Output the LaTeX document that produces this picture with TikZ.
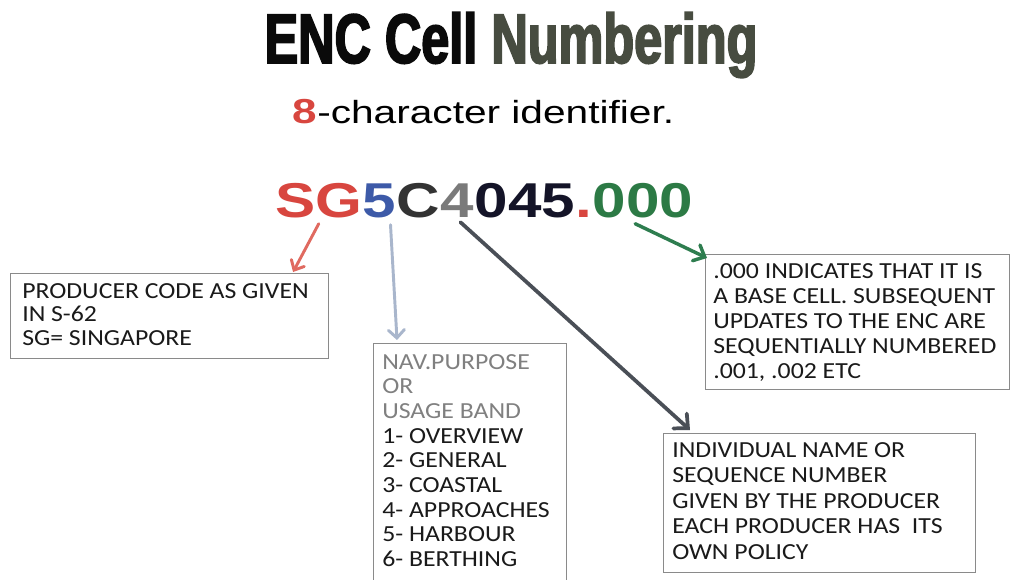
\documentclass[tikz,border=0pt]{standalone}
\usepackage{fontspec}
\setmainfont{Liberation Sans}
\newfontfamily\boxfont[FakeStretch=1.12]{Carlito}
\newfontfamily\idfont[FakeStretch=1.23]{Liberation Sans}
\newfontfamily\subfont[FakeStretch=1.27]{Liberation Sans}
\newfontfamily\titlefont[FakeStretch=0.72,FakeBold=2.5]{Liberation Sans}
\usetikzlibrary{arrows.meta,calc}
\definecolor{idred}{HTML}{D8463F}
\definecolor{redarr}{HTML}{E06A60}
\definecolor{idblue}{HTML}{3D5AA8}
\definecolor{idC}{HTML}{333333}
\definecolor{idfour}{HTML}{7A7A7A}
\definecolor{iddark}{HTML}{141428}
\definecolor{idgreen}{HTML}{2C7A45}
\definecolor{greenarr}{HTML}{2E7D4F}
\definecolor{bluearr}{HTML}{A9B6CC}
\definecolor{darkarr}{HTML}{4A4F57}
\definecolor{boxline}{HTML}{8A8A8A}
\definecolor{fadetext}{HTML}{808080}
\definecolor{titleblack}{HTML}{0A0A0A}
\definecolor{titleolive}{HTML}{474C40}
\definecolor{bodytext}{HTML}{1A1A1A}
\begin{document}
\begin{tikzpicture}[x=0.75pt,y=-0.75pt,
  idn/.style={inner sep=0pt, anchor=base west, font=\idfont\bfseries\fontsize{36.7}{40}\selectfont},
  infobox/.style={draw=boxline, line width=0.8pt, inner sep=0pt, anchor=north west},
  boxtext/.style={inner sep=0pt, anchor=north west, align=left, text=bodytext},
  arr/.style={line cap=round}
]
\useasboundingbox[fill=white] (0,0) rectangle (1010,580);

% title
\node[inner sep=0pt, anchor=base, font=\titlefont\bfseries\fontsize{52.5}{60}\selectfont, text=titleblack] (title) at (511,63)
  {ENC Cell \textcolor{titleolive}{Numbering}};

% subtitle
\node[inner sep=0pt, anchor=base west, font=\subfont\bfseries\fontsize{26}{30}\selectfont, text=idred] (eight) at (292,124) {8};
\node[inner sep=0pt, anchor=base west, font=\subfont\fontsize{24}{28}\selectfont, text=black] (chartext) at (eight.base east) {-character identifier.};

% identifier
\node[idn, text=idred] (sg) at (275,218) {SG};
\node[idn, text=idblue] (five) at (sg.base east) {5};
\node[idn, text=idC] (cee) at (five.base east) {C};
\node[idn, text=idfour] (four) at (cee.base east) {4};
\node[idn, text=iddark] (ofs) at (four.base east) {045};
\node[idn, text=idred] (dot) at (ofs.base east) {.};
\node[idn, text=idgreen] (zeros) at (dot.base east) {000};

% boxes
\node[infobox, minimum width=238.5pt, minimum height=63.75pt] (prod) at (10,273) {};
\node[boxtext, font=\boxfont\fontsize{17.25}{17.6}\selectfont] (prodtext) at ($(prod.north west)+(12,10)$)
  {PRODUCER CODE AS GIVEN\\IN S-62\\SG= SINGAPORE};

\node[infobox, minimum width=144.75pt, minimum height=183pt] (nav) at (373,343) {};
\node[boxtext, font=\boxfont\fontsize{17.25}{18.5}\selectfont] (navtext) at ($(nav.north west)+(9,11)$)
  {\textcolor{fadetext}{NAV.PURPOSE}\\\textcolor{fadetext}{OR}\\\textcolor{fadetext}{USAGE BAND}\\1- OVERVIEW\\2- GENERAL\\3- COASTAL\\4- APPROACHES\\5- HARBOUR\\6- BERTHING};

\node[infobox, minimum width=228pt, minimum height=101.25pt] (base) at (705,254) {};
\node[boxtext, font=\boxfont\fontsize{17.25}{18.75}\selectfont] (basetext) at ($(base.north west)+(8,9)$)
  {.000 INDICATES THAT IT IS\\A BASE CELL. SUBSEQUENT\\UPDATES TO THE ENC ARE\\SEQUENTIALLY NUMBERED\\.001, .002 ETC};

\node[infobox, minimum width=234pt, minimum height=104pt] (ind) at (663,433) {};
\node[boxtext, font=\boxfont\fontsize{17.25}{19.1}\selectfont] (indtext) at ($(ind.north west)+(9,9)$)
  {INDIVIDUAL NAME OR\\SEQUENCE NUMBER\\GIVEN BY THE PRODUCER\\EACH PRODUCER HAS\ \ ITS\\OWN POLICY};

% arrows
\draw[arr, draw=redarr, line width=2.2pt, -{Straight Barb[length=6pt,width=11pt,line cap=round]}]
  ($(sg.south)+(0,5)$) -- ($(prod.north east)+(-36,-1)$);
\draw[arr, draw=bluearr, line width=2.2pt, -{Straight Barb[length=6pt,width=12pt,line cap=round]}]
  ($(five.south)+(11,6)$) -- ($(nav.north west)+(24,-3)$);
\draw[arr, draw=darkarr, line width=2.8pt, -{Straight Barb[length=8pt,width=15pt,line cap=round]}]
  ($(four.south)+(3,4)$) -- ($(ind.north west)+(27,-3)$);
\draw[arr, draw=greenarr, line width=2.6pt, -{Straight Barb[length=7pt,width=13pt,line cap=round]}]
  ($(zeros.south)+(-8,5)$) -- ($(base.north west)+(2,4)$);
\end{tikzpicture}
\end{document}
